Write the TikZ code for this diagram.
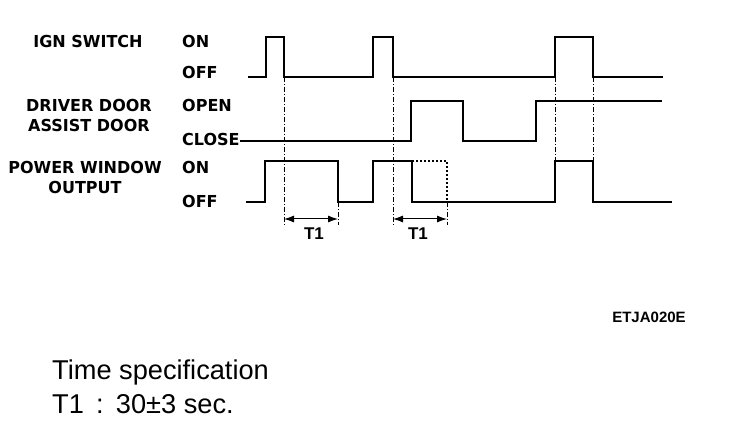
\documentclass[tikz,border=0pt]{standalone}
\usepackage{fontspec}
\usepackage{tikz}
\usetikzlibrary{arrows.meta}
\newfontfamily\sigfont{DejaVu Sans}[FakeStretch=0.97]
\newfontfamily\specfont{Liberation Sans}

\begin{document}
\begin{tikzpicture}[x=1pt,y=-1pt,
  sig/.style={line width=2pt,line join=miter},
  ghost/.style={line width=1.2pt,dash pattern=on 2pt off 2pt},
  guide/.style={line width=0.8pt,dash pattern=on 5pt off 2pt on 1pt off 2pt},
  dim/.style={line width=1pt,{Latex[length=10pt,width=7pt]}-{Latex[length=10pt,width=7pt]}},
  signame/.style={font=\sigfont\bfseries\fontsize{16.5}{18}\selectfont,align=center,inner sep=0pt},
  lvl/.style={font=\sigfont\bfseries\fontsize{16.5}{18}\selectfont,anchor=west,inner sep=0pt},
  tlabel/.style={font=\specfont\bfseries\fontsize{17}{19}\selectfont,inner sep=0pt}]
\useasboundingbox (0,0) rectangle (736,430);
\fill[white] (0,0) rectangle (736,430);
% signal names
\node[signame] (ign) at (88,41) {IGN SWITCH};
\node[signame] (door) at (89,115) {DRIVER DOOR\\[2pt]ASSIST DOOR};
\node[signame] (pw) at (85,177) {POWER WINDOW\\[2pt]OUTPUT};
% levels
\node[lvl] (ignon) at (182,41) {ON};
\node[lvl] (ignoff) at (182,72) {OFF};
\node[lvl] (dooropen) at (182,105) {OPEN};
\node[lvl] (doorclose) at (182,139) {CLOSE};
\node[lvl] (pwon) at (182,167) {ON};
\node[lvl] (pwoff) at (182,201) {OFF};
% guide lines
\draw[guide] (284,77) -- (284,225);
\draw[guide] (338,202) -- (338,225);
\draw[guide] (393,77) -- (393,225);
\draw[guide] (447,202) -- (447,225);
\draw[guide] (555,77) -- (555,161);
\draw[guide] (593,77) -- (593,161);
% waveforms
\draw[sig] (248,77) -- (266,77) -- (266,37) -- (284,37) -- (284,77) -- (373,77) -- (373,37)
  -- (393,37) -- (393,77) -- (555,77) -- (555,37) -- (593,37) -- (593,77) -- (663,77);
\draw[sig] (doorclose.east |- 0,141) -- (411,141) -- (411,101) -- (463,101) -- (463,141) -- (536,141)
  -- (536,101) -- (662,101);
\draw[sig] (246,202) -- (265,202) -- (265,161) -- (338,161) -- (338,202) -- (373,202) -- (373,161)
  -- (412,161) -- (412,202) -- (555,202) -- (555,161) -- (593,161) -- (593,202) -- (672,202);
\draw[ghost] (412,161) -- (447,161) -- (447,202);
% T1 spans
\coordinate (a1) at (284,219);
\coordinate (b1) at (338,219);
\coordinate (a2) at (393,219);
\coordinate (b2) at (447,219);
\draw[dim] (a1) -- (b1);
\draw[dim] (a2) -- (b2);
\node[tlabel] (t1a) at (314,234) {T1};
\node[tlabel] (t1b) at (418,234) {T1};
% code and specification
\node[font=\specfont\bfseries\fontsize{15}{17}\selectfont,inner sep=0pt] (code) at (649,317) {ETJA020E};
\node[font=\specfont\fontsize{27.2}{30}\selectfont,anchor=base west,inner sep=0pt] (spec) at (52,379) {Time specification};
\node[font=\specfont\fontsize{27.2}{30}\selectfont,anchor=base west,inner sep=0pt] (spect) at (52,413) {T1\hspace{0.45em}:\hspace{0.45em}30±3 sec.};
\end{tikzpicture}
\end{document}
